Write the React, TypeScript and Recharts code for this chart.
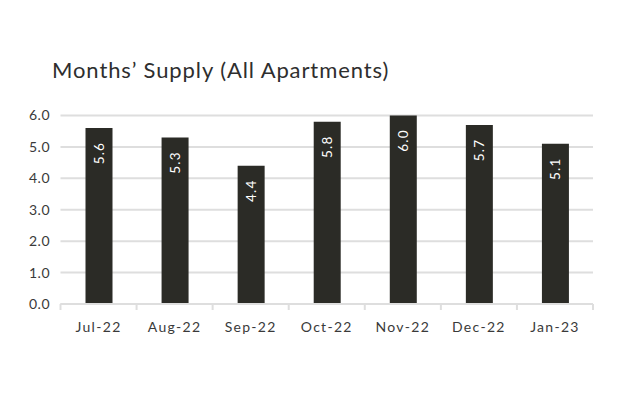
import React from "react";
import { BarChart, Bar, XAxis, YAxis, CartesianGrid, LabelList } from "recharts";

const months = ["Jul-22", "Aug-22", "Sep-22", "Oct-22", "Nov-22", "Dec-22", "Jan-23"];
const supply = [5.6, 5.3, 4.4, 5.8, 6.0, 5.7, 5.1];
const yTicks = [0, 1, 2, 3, 4, 5, 6];
const title = "Months\u2019 Supply (All Apartments)";

const data = months.map((m, i) => ({ month: m, value: supply[i] }));

const FONT = "Lato, 'Open Sans', sans-serif";
const TEXT = "#3a3a3a";
const BAR = "#2b2b26";
const GRID = "#dedede";

const XTick = (props: any) => {
  const { x, y, payload, index, visibleTicksCount } = props;
  const half = payload && payload.offset ? payload.offset : 38;
  const axisY = y - 18;
  return (
    <g>
      <line x1={x - half} x2={x - half} y1={axisY} y2={axisY + 6} stroke={GRID} strokeWidth={2} />
      {index === visibleTicksCount - 1 && (
        <line x1={x + half} x2={x + half} y1={axisY} y2={axisY + 6} stroke={GRID} strokeWidth={2} />
      )}
      <text x={x} y={y} dy="0.71em" textAnchor="middle" fill={TEXT} fontSize={14} fontFamily={FONT} letterSpacing={1.3}>
        {payload.value}
      </text>
    </g>
  );
};

const BarLabel = (props: any) => {
  const { x, y, width, value } = props;
  const cx = x + width / 2;
  const cy = y + 25;
  return (
    <text
      x={cx}
      y={cy}
      transform={`rotate(-90 ${cx} ${cy})`}
      textAnchor="middle"
      dominantBaseline="central"
      fill="#ffffff"
      fontSize={13.5}
      fontFamily={FONT}
      letterSpacing={1.2}
    >
      {Number(value).toFixed(1)}
    </text>
  );
};

export default function App() {
  return (
    <div style={{ position: "absolute", left: 0, top: 0, width: 630, height: 398, background: "#fff" }}>
      <div
        style={{
          position: "absolute",
          left: 52,
          top: 57,
          fontFamily: FONT,
          fontSize: 22,
          color: "#2e2e2e",
          letterSpacing: 0.9,
          whiteSpace: "nowrap",
          lineHeight: "26px",
        }}
      >
        {title}
      </div>
      <BarChart
        width={630}
        height={398}
        data={data}
        margin={{ top: 115.5, right: 37, bottom: 54, left: 0.5 }}
        barCategoryGap="32%"
      >
        <CartesianGrid vertical={false} stroke={GRID} strokeWidth={2} />
        <XAxis
          dataKey="month"
          height={40}
          axisLine={{ stroke: GRID, strokeWidth: 2 }}
          tickLine={false}
          tickSize={6}
          tickMargin={12}
          tick={<XTick />}
          interval={0}
        />
        <YAxis
          width={60}
          domain={[0, 6]}
          ticks={yTicks}
          axisLine={false}
          tickLine={false}
          tickMargin={4.5}
          tickFormatter={(v: number) => v.toFixed(1)}
          tick={{ fill: TEXT, fontSize: 14, fontFamily: FONT, letterSpacing: 0.5 }}
        />
        <Bar dataKey="value" fill={BAR} barSize={27} isAnimationActive={false}>
          <LabelList dataKey="value" content={<BarLabel />} />
        </Bar>
      </BarChart>
    </div>
  );
}
